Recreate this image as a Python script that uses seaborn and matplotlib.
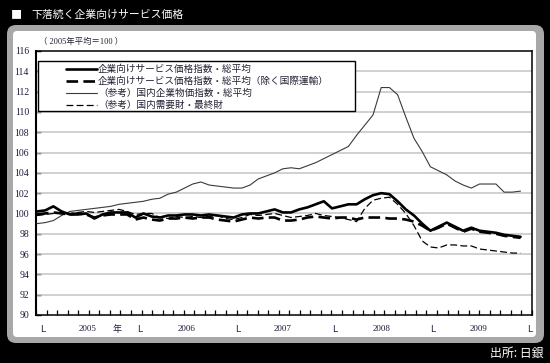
import numpy as np
import pandas as pd
import matplotlib
matplotlib.use("Agg")
import matplotlib.pyplot as plt
import seaborn as sns
from matplotlib.patches import FancyBboxPatch, Rectangle
from matplotlib.lines import Line2D

# ---------------- data (monthly, Jan 2005 .. Dec 2009) ----------------
months = list(range(60))
cspi_all = [100.2, 100.3, 100.7, 100.2, 99.9, 99.9, 100.0, 99.5, 99.9, 100.1,
            100.1, 100.1, 99.6, 100.0, 99.7, 99.6, 99.8, 99.8, 99.9, 99.9,
            99.8, 99.9, 99.8, 99.7, 99.6, 99.9, 100.0, 100.0, 100.2, 100.4,
            100.1, 100.1, 100.4, 100.6, 100.9, 101.2, 100.5, 100.7, 100.9, 100.9,
            101.4, 101.8, 102.0, 101.9, 101.2, 100.4, 99.8, 99.0, 98.3, 98.7,
            99.1, 98.7, 98.3, 98.6, 98.3, 98.2, 98.1, 97.9, 97.8, 97.7]
cspi_ex_intl = [99.9, 100.0, 100.1, 100.0, 99.9, 100.0, 99.9, 99.6, 99.8, 99.9,
                99.9, 99.9, 99.4, 99.6, 99.4, 99.3, 99.5, 99.5, 99.6, 99.5,
                99.6, 99.6, 99.4, 99.3, 99.2, 99.4, 99.6, 99.5, 99.6, 99.6,
                99.3, 99.3, 99.4, 99.6, 99.7, 99.6, 99.5, 99.6, 99.6, 99.4,
                99.6, 99.6, 99.6, 99.5, 99.5, 99.4, 99.2, 98.8, 98.3, 98.6,
                99.0, 98.6, 98.2, 98.5, 98.2, 98.1, 98.0, 97.8, 97.7, 97.6]
cgpi = [99.0, 99.1, 99.3, 99.8, 100.2, 100.3, 100.4, 100.5, 100.6, 100.7,
        100.9, 101.0, 101.1, 101.2, 101.4, 101.5, 101.9, 102.1, 102.5, 102.9,
        103.1, 102.8, 102.7, 102.6, 102.5, 102.5, 102.8, 103.4, 103.7, 104.0,
        104.4, 104.5, 104.4, 104.7, 105.0, 105.4, 105.8, 106.2, 106.6, 107.7,
        108.7, 109.7, 112.4, 112.4, 111.7, 109.5, 107.4, 106.1, 104.6, 104.2,
        103.8, 103.2, 102.8, 102.5, 102.9, 102.9, 102.9, 102.1, 102.1, 102.2]
final_goods = [99.8, 99.9, 100.0, 100.1, 100.0, 100.1, 100.2, 100.1, 100.2, 100.3,
               100.4, 100.2, 99.9, 100.0, 100.0, 99.6, 99.5, 99.7, 99.6, 99.7,
               99.6, 99.7, 99.8, 99.5, 99.4, 99.6, 99.9, 99.8, 99.9, 100.0,
               99.8, 99.6, 99.7, 99.8, 100.0, 99.8, 99.7, 99.6, 99.4, 99.2,
               100.5, 101.3, 101.5, 101.6, 100.9, 100.0, 98.8, 97.3, 96.7, 96.6,
               96.9, 96.9, 96.8, 96.8, 96.5, 96.4, 96.3, 96.2, 96.1, 96.1]

series_labels = ["企業向けサービス価格指数・総平均",
                 "企業向けサービス価格指数・総平均（除く国際運輸）",
                 "（参考）国内企業物価指数・総平均",
                 "（参考）国内需要財・最終財"]
y_ticks = list(range(90, 117, 2))
year_labels = ["2005", "2006", "2007", "2008", "2009"]
title = "下落続く企業向けサービス価格"
base_note = "（ 2005年平均＝100 ）"
source = "出所: 日銀"

df = pd.DataFrame({"month": months, "all": cspi_all, "ex": cspi_ex_intl,
                   "cgpi": cgpi, "final": final_goods})

# ---------------- figure ----------------
sns.set_theme(style="white")
plt.rcParams["font.family"] = ["Liberation Serif", "Noto Sans CJK JP", "DejaVu Sans"]
jp = ["Noto Sans CJK JP", "DejaVu Sans"]

W, H = 550, 363
fig = plt.figure(figsize=(5.5, 3.63), dpi=100, facecolor="black")

bg = fig.add_axes([0, 0, 1, 1], zorder=0)
bg.set_xlim(0, W)
bg.set_ylim(H, 0)
bg.axis("off")
bg.set_facecolor("black")
bg.add_patch(FancyBboxPatch((7, 25), 537, 318, boxstyle="round,pad=0,rounding_size=9",
                            facecolor="#a8a8a8", edgecolor="none"))
bg.add_patch(FancyBboxPatch((13, 31), 523, 306, boxstyle="round,pad=0,rounding_size=4",
                            facecolor="white", edgecolor="none"))
bg.text(11, 15, "■", color="white", fontsize=8, family=jp, va="center", ha="left")
bg.text(31, 15, title, color="white", fontsize=7.8, family=jp, va="center", ha="left")
bg.text(543, 353, source, color="white", fontsize=8.6, family=jp, va="center", ha="right")
bg.text(39, 42, base_note, color="#222233", fontsize=6.0, va="center", ha="left")

ax = fig.add_axes([36 / W, 1 - 315 / H, 496 / W, 264 / H], zorder=1)
ax.set_facecolor("white")

sns.lineplot(data=df, x="month", y="cgpi", ax=ax, color="#3a3a3a", lw=0.8, zorder=3)
sns.lineplot(data=df, x="month", y="final", ax=ax, color="black", lw=0.9,
             linestyle=(0, (5.5, 2.6)), zorder=3)
sns.lineplot(data=df, x="month", y="ex", ax=ax, color="black", lw=1.9,
             linestyle=(0, (4.4, 2.0)), zorder=4)
sns.lineplot(data=df, x="month", y="all", ax=ax, color="black", lw=1.9, zorder=5)

x0, x1 = -0.12, 60.4
ax.set_xlim(x0, x1)
ax.set_ylim(90, 116)
ax.set_xlabel("")
ax.set_ylabel("")

# y axis
ax.set_yticks(y_ticks)
ax.set_yticklabels([str(v) for v in y_ticks], color="#1c1c3a", fontsize=7)
ax.tick_params(axis="y", direction="in", length=3.5, width=1, color="black", pad=5,
               left=True)
for v in y_ticks[1:-1]:
    ax.axhline(v, color="#c4c4c4", lw=1.1, zorder=1)

# x axis: L markers at year boundaries, year labels in the middle
mark_pos = [0.7 + 11.88 * k for k in range(6)]
year_pos = [6.2, 18.3, 30.0, 42.1, 53.9]
pos = mark_pos + year_pos + [9.75]
labs = ["L"] * 6 + year_labels + ["年"]
ax.set_xticks(pos)
ax.set_xticklabels(labs, color="#1c1c3a", fontsize=6.5)
for t in ax.get_xticklabels():
    if t.get_text() == "年":
        t.set_family(jp)
    elif t.get_text() == "L":
        t.set_family(["DejaVu Sans"])
        t.set_fontsize(6.6)
ax.tick_params(axis="x", length=0, pad=7)
ax.set_xticks(np.linspace(x0, x1, 48), minor=True)
ax.tick_params(axis="x", which="minor", direction="in", length=3.5, width=0.9,
               color="black", bottom=True)

for s in ax.spines.values():
    s.set_color("black")
    s.set_linewidth(1.1)
ax.spines["left"].set_linewidth(1.5)

# legend
handles = [Line2D([], [], color="black", lw=1.9),
           Line2D([], [], color="black", lw=1.9, linestyle=(0, (4.4, 2.0))),
           Line2D([], [], color="#3a3a3a", lw=0.8),
           Line2D([], [], color="black", lw=0.9, linestyle=(0, (5.5, 2.6)))]
leg = ax.legend(handles, series_labels, loc="upper left",
                bbox_to_anchor=(66 / W, 1 - 64.5 / H), bbox_transform=fig.transFigure,
                frameon=False, borderpad=0, borderaxespad=0, handlelength=3.2,
                handletextpad=0.15, labelspacing=0.28,
                prop={"family": jp, "size": 6.9})
for t in leg.get_texts():
    t.set_color("#222233")
leg.set_zorder(7)

ax.add_patch(Rectangle((38, 61), 317, 50, transform=bg.transData, facecolor="white",
                       edgecolor="black", lw=1.0, zorder=6, clip_on=False))

fig.savefig("out.png", dpi=100, facecolor="black")
